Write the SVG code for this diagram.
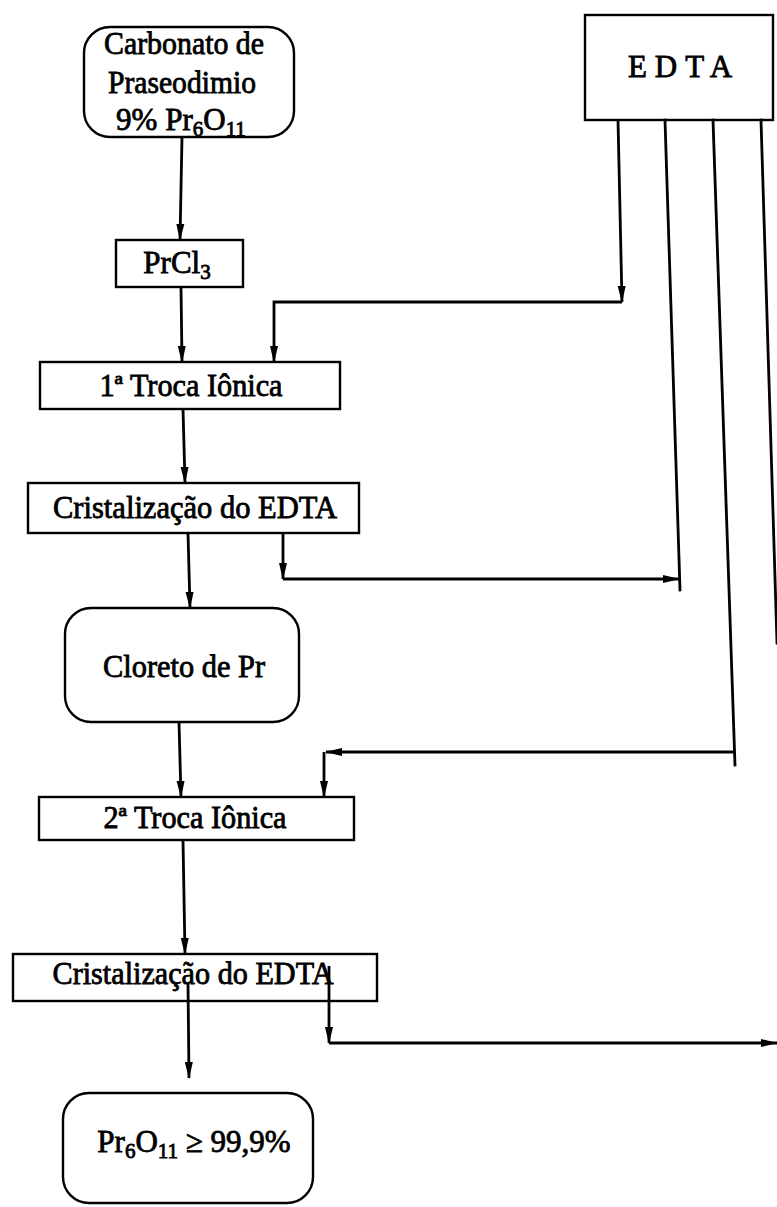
<svg xmlns="http://www.w3.org/2000/svg" width="777" height="1207" viewBox="0 0 777 1207">
  <style>
    .box { fill: #fff; stroke: #000; stroke-width: 2.4; }
    .lbl { font-family: "Liberation Serif", "Times New Roman", serif; font-size: 31px; fill: #000; stroke: #000; stroke-width: 0.8; text-anchor: middle; }
    .sub { font-size: 21px; }
    .ln { fill: none; stroke: #000; stroke-width: 2.8; stroke-linecap: square; }
    .arr { fill: none; stroke: #000; stroke-width: 2.8; marker-end: url(#ah); }
  </style>
  <defs>
    <marker id="ah" markerWidth="17" markerHeight="10" refX="16" refY="5" orient="auto" markerUnits="userSpaceOnUse">
      <path d="M0,1 L17,5 L0,9 z" fill="#000"/>
    </marker>
  </defs>

  <rect width="777" height="1207" fill="#fff"/>

  <!-- process nodes -->
  <g id="carbonato">
    <rect class="box" x="84" y="27" width="210" height="110" rx="26"/>
    <text class="lbl" x="184" y="54" textLength="160" lengthAdjust="spacingAndGlyphs">Carbonato de</text>
    <text class="lbl" x="182" y="93" textLength="148" lengthAdjust="spacingAndGlyphs">Praseodimio</text>
    <text class="lbl" x="181" y="130">9% Pr<tspan class="sub" dy="6">6</tspan><tspan dy="-6">O</tspan><tspan class="sub" dy="6">11</tspan></text>
  </g>

  <g id="edta">
    <rect class="box" x="585" y="15" width="188" height="105"/>
    <text class="lbl" x="684" y="77" letter-spacing="8">EDTA</text>
  </g>

  <g id="prcl3">
    <rect class="box" x="116" y="240" width="127" height="47"/>
    <text class="lbl" x="177" y="273">PrCl<tspan class="sub" dy="6">3</tspan></text>
  </g>

  <g id="troca1">
    <rect class="box" x="40" y="362" width="300" height="47"/>
    <text class="lbl" x="191" y="396" textLength="183" lengthAdjust="spacingAndGlyphs">1ª Troca Iônica</text>
  </g>

  <g id="cristalizacao1">
    <rect class="box" x="28" y="483" width="331" height="50"/>
    <text class="lbl" x="195" y="518" textLength="284" lengthAdjust="spacingAndGlyphs">Cristalização do EDTA</text>
  </g>

  <g id="cloreto">
    <rect class="box" x="65" y="608" width="234" height="114" rx="26"/>
    <text class="lbl" x="184" y="677" textLength="162" lengthAdjust="spacingAndGlyphs">Cloreto de Pr</text>
  </g>

  <g id="troca2">
    <rect class="box" x="39" y="797" width="315" height="43"/>
    <text class="lbl" x="195" y="828" textLength="183" lengthAdjust="spacingAndGlyphs">2ª Troca Iônica</text>
  </g>

  <g id="cristalizacao2">
    <rect class="box" x="13" y="954" width="364" height="47"/>
    <text class="lbl" x="193" y="984" textLength="281" lengthAdjust="spacingAndGlyphs">Cristalização do EDTA</text>
  </g>

  <g id="oxido">
    <rect class="box" x="63" y="1093" width="250" height="110" rx="26"/>
    <text class="lbl" x="194" y="1152">Pr<tspan class="sub" dy="6">6</tspan><tspan dy="-6">O</tspan><tspan class="sub" dy="6">11</tspan><tspan dy="-6"> ≥ 99,9%</tspan></text>
  </g>

  <!-- connectors -->
  <g id="connectors">
    <!-- main column -->
    <path class="arr" d="M182,137 L180,240"/>
    <path class="arr" d="M181,287 L182,362"/>
    <path class="arr" d="M183,409 L185,483"/>
    <path class="arr" d="M188,533 L190,608"/>
    <path class="arr" d="M179,722 L181,797"/>
    <path class="arr" d="M183,840 L185,954"/>
    <path class="arr" d="M188,983 L189,1078"/>

    <!-- EDTA feed to 1st exchange -->
    <path class="arr" d="M618,120 L622,302"/>
    <path class="arr" d="M622,302 L274,302 L274,362"/>

    <!-- EDTA returned from 1st crystallisation -->
    <path class="ln" d="M665,120 L680,590"/>
    <path class="arr" d="M283,533 L283,579"/>
    <path class="arr" d="M283,579 L679,579"/>

    <!-- EDTA feed to 2nd exchange -->
    <path class="ln" d="M713,120 L735,765"/>
    <path class="arr" d="M734,752 L326,752"/>
    <path class="arr" d="M324,752 L324,797"/>

    <!-- fourth EDTA line -->
    <path class="ln" d="M761,120 L777,643"/>

    <!-- EDTA returned from 2nd crystallisation -->
    <path class="arr" d="M329,966 L329,1043"/>
    <path class="arr" d="M329,1043 L777,1043"/>
  </g>
</svg>
